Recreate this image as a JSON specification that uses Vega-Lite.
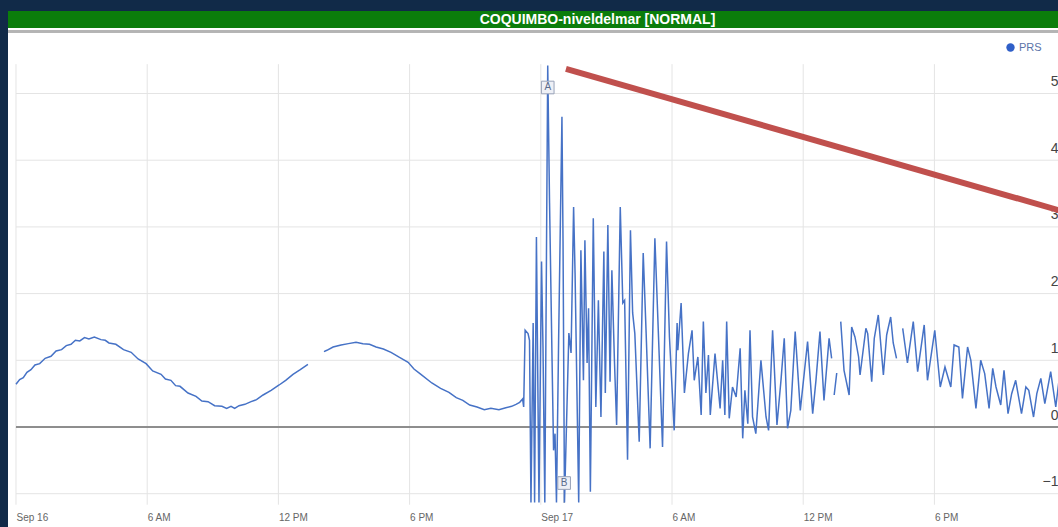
{
  "$schema": "https://vega.github.io/schema/vega-lite/v6.json",
  "background": "#112a48",
  "padding": {"left": 7, "top": 11, "right": 0, "bottom": 0},
  "spacing": 0,
  "config": {"font": "Liberation Sans", "view": {"stroke": null}},
  "datasets": {
    "series": [
      {"t": "2015-09-16T00:00Z", "v": 0.64}, {"t": "2015-09-16T00:10Z", "v": 0.71}, {"t": "2015-09-16T00:20Z", "v": 0.74}, {"t": "2015-09-16T00:30Z", "v": 0.82}, {"t": "2015-09-16T00:41Z", "v": 0.86},
      {"t": "2015-09-16T00:52Z", "v": 0.93}, {"t": "2015-09-16T01:05Z", "v": 0.95}, {"t": "2015-09-16T01:20Z", "v": 1.03}, {"t": "2015-09-16T01:36Z", "v": 1.06}, {"t": "2015-09-16T01:50Z", "v": 1.14}, {"t": "2015-09-16T02:05Z", "v": 1.16},
      {"t": "2015-09-16T02:18Z", "v": 1.22}, {"t": "2015-09-16T02:31Z", "v": 1.24}, {"t": "2015-09-16T02:43Z", "v": 1.3}, {"t": "2015-09-16T02:55Z", "v": 1.29}, {"t": "2015-09-16T03:08Z", "v": 1.34}, {"t": "2015-09-16T03:20Z", "v": 1.32},
      {"t": "2015-09-16T03:35Z", "v": 1.35}, {"t": "2015-09-16T03:53Z", "v": 1.31}, {"t": "2015-09-16T04:05Z", "v": 1.3}, {"t": "2015-09-16T04:15Z", "v": 1.26}, {"t": "2015-09-16T04:34Z", "v": 1.24},
      {"t": "2015-09-16T04:55Z", "v": 1.16}, {"t": "2015-09-16T05:16Z", "v": 1.12}, {"t": "2015-09-16T05:35Z", "v": 1.02}, {"t": "2015-09-16T05:57Z", "v": 0.95}, {"t": "2015-09-16T06:15Z", "v": 0.84}, {"t": "2015-09-16T06:38Z", "v": 0.79},
      {"t": "2015-09-16T06:50Z", "v": 0.72}, {"t": "2015-09-16T07:05Z", "v": 0.7}, {"t": "2015-09-16T07:18Z", "v": 0.62}, {"t": "2015-09-16T07:30Z", "v": 0.61}, {"t": "2015-09-16T07:52Z", "v": 0.51}, {"t": "2015-09-16T08:14Z", "v": 0.46},
      {"t": "2015-09-16T08:30Z", "v": 0.39}, {"t": "2015-09-16T08:47Z", "v": 0.38}, {"t": "2015-09-16T09:05Z", "v": 0.32}, {"t": "2015-09-16T09:25Z", "v": 0.31}, {"t": "2015-09-16T09:38Z", "v": 0.28}, {"t": "2015-09-16T09:50Z", "v": 0.31},
      {"t": "2015-09-16T10:00Z", "v": 0.28}, {"t": "2015-09-16T10:12Z", "v": 0.32}, {"t": "2015-09-16T10:28Z", "v": 0.34}, {"t": "2015-09-16T10:45Z", "v": 0.38}, {"t": "2015-09-16T11:00Z", "v": 0.41}, {"t": "2015-09-16T11:18Z", "v": 0.48},
      {"t": "2015-09-16T11:40Z", "v": 0.55}, {"t": "2015-09-16T12:02Z", "v": 0.63}, {"t": "2015-09-16T12:20Z", "v": 0.7}, {"t": "2015-09-16T12:40Z", "v": 0.79}, {"t": "2015-09-16T13:00Z", "v": 0.86}, {"t": "2015-09-16T13:21Z", "v": 0.94},
      {"t": "2015-09-16T13:40Z", "v": null},
      {"t": "2015-09-16T14:05Z", "v": 1.13}, {"t": "2015-09-16T14:13Z", "v": 1.15}, {"t": "2015-09-16T14:30Z", "v": 1.2}, {"t": "2015-09-16T14:52Z", "v": 1.23}, {"t": "2015-09-16T15:12Z", "v": 1.25},
      {"t": "2015-09-16T15:33Z", "v": 1.27}, {"t": "2015-09-16T15:52Z", "v": 1.25}, {"t": "2015-09-16T16:10Z", "v": 1.24}, {"t": "2015-09-16T16:28Z", "v": 1.2}, {"t": "2015-09-16T16:48Z", "v": 1.17},
      {"t": "2015-09-16T17:09Z", "v": 1.12}, {"t": "2015-09-16T17:30Z", "v": 1.05}, {"t": "2015-09-16T17:56Z", "v": 0.97}, {"t": "2015-09-16T18:12Z", "v": 0.87}, {"t": "2015-09-16T18:31Z", "v": 0.79},
      {"t": "2015-09-16T19:01Z", "v": 0.66}, {"t": "2015-09-16T19:25Z", "v": 0.58}, {"t": "2015-09-16T19:48Z", "v": 0.52}, {"t": "2015-09-16T20:08Z", "v": 0.44}, {"t": "2015-09-16T20:26Z", "v": 0.4},
      {"t": "2015-09-16T20:45Z", "v": 0.33}, {"t": "2015-09-16T21:05Z", "v": 0.3}, {"t": "2015-09-16T21:25Z", "v": 0.26}, {"t": "2015-09-16T21:43Z", "v": 0.28}, {"t": "2015-09-16T22:05Z", "v": 0.26}, {"t": "2015-09-16T22:24Z", "v": 0.29},
      {"t": "2015-09-16T22:40Z", "v": 0.31}, {"t": "2015-09-16T22:52Z", "v": 0.34}, {"t": "2015-09-16T23:02Z", "v": 0.37}, {"t": "2015-09-16T23:10Z", "v": 0.42}, {"t": "2015-09-16T23:13Z", "v": 0.3},
      {"t": "2015-09-16T23:17Z", "v": 1.45}, {"t": "2015-09-16T23:25Z", "v": 1.4}, {"t": "2015-09-16T23:29Z", "v": 1.3},
      {"t": "2015-09-16T23:33Z", "v": -1.13}, {"t": "2015-09-16T23:39Z", "v": 1.56}, {"t": "2015-09-16T23:43Z", "v": -1.13},
      {"t": "2015-09-16T23:48Z", "v": 2.85}, {"t": "2015-09-16T23:55Z", "v": -1.13}, {"t": "2015-09-17T00:02Z", "v": 2.48},
      {"t": "2015-09-17T00:06Z", "v": 1.2}, {"t": "2015-09-17T00:11Z", "v": -1.13}, {"t": "2015-09-17T00:19Z", "v": 5.42},
      {"t": "2015-09-17T00:24Z", "v": 3.36}, {"t": "2015-09-17T00:31Z", "v": 0.96}, {"t": "2015-09-17T00:35Z", "v": -0.35},
      {"t": "2015-09-17T00:39Z", "v": -0.1}, {"t": "2015-09-17T00:43Z", "v": -1.13}, {"t": "2015-09-17T00:49Z", "v": 1.35},
      {"t": "2015-09-17T00:58Z", "v": 4.65}, {"t": "2015-09-17T01:01Z", "v": 2.78}, {"t": "2015-09-17T01:05Z", "v": -1.13},
      {"t": "2015-09-17T01:17Z", "v": 1.41}, {"t": "2015-09-17T01:23Z", "v": 1.11}, {"t": "2015-09-17T01:30Z", "v": 3.3},
      {"t": "2015-09-17T01:34Z", "v": 2.31}, {"t": "2015-09-17T01:44Z", "v": -1.13}, {"t": "2015-09-17T01:50Z", "v": 2.65},
      {"t": "2015-09-17T01:57Z", "v": 0.7}, {"t": "2015-09-17T02:01Z", "v": 2.8}, {"t": "2015-09-17T02:07Z", "v": 0.96},
      {"t": "2015-09-17T02:11Z", "v": 1.78}, {"t": "2015-09-17T02:16Z", "v": -0.97}, {"t": "2015-09-17T02:24Z", "v": 3.13},
      {"t": "2015-09-17T02:31Z", "v": 0.3}, {"t": "2015-09-17T02:38Z", "v": 1.9}, {"t": "2015-09-17T02:45Z", "v": 0.15},
      {"t": "2015-09-17T02:53Z", "v": 2.63}, {"t": "2015-09-17T02:57Z", "v": 0.51}, {"t": "2015-09-17T03:04Z", "v": 3.03},
      {"t": "2015-09-17T03:10Z", "v": 0.68}, {"t": "2015-09-17T03:15Z", "v": 2.35}, {"t": "2015-09-17T03:22Z", "v": 1.0},
      {"t": "2015-09-17T03:28Z", "v": 0.03}, {"t": "2015-09-17T03:38Z", "v": 3.3}, {"t": "2015-09-17T03:45Z", "v": 1.86},
      {"t": "2015-09-17T03:50Z", "v": 1.9}, {"t": "2015-09-17T03:58Z", "v": -0.49}, {"t": "2015-09-17T04:06Z", "v": 2.95},
      {"t": "2015-09-17T04:12Z", "v": 1.71}, {"t": "2015-09-17T04:18Z", "v": 1.4}, {"t": "2015-09-17T04:30Z", "v": -0.22},
      {"t": "2015-09-17T04:41Z", "v": 2.61}, {"t": "2015-09-17T04:49Z", "v": 1.41}, {"t": "2015-09-17T05:00Z", "v": -0.32},
      {"t": "2015-09-17T05:13Z", "v": 2.83}, {"t": "2015-09-17T05:21Z", "v": 1.65}, {"t": "2015-09-17T05:34Z", "v": -0.3},
      {"t": "2015-09-17T05:45Z", "v": 2.78}, {"t": "2015-09-17T05:53Z", "v": 1.35}, {"t": "2015-09-17T06:06Z", "v": -0.05},
      {"t": "2015-09-17T06:14Z", "v": 1.56}, {"t": "2015-09-17T06:16Z", "v": 1.15}, {"t": "2015-09-17T06:25Z", "v": 1.86},
      {"t": "2015-09-17T06:34Z", "v": 0.51}, {"t": "2015-09-17T06:45Z", "v": 1.1}, {"t": "2015-09-17T06:55Z", "v": 1.45},
      {"t": "2015-09-17T07:01Z", "v": 0.7}, {"t": "2015-09-17T07:11Z", "v": 1.05}, {"t": "2015-09-17T07:20Z", "v": 0.18},
      {"t": "2015-09-17T07:26Z", "v": 1.58}, {"t": "2015-09-17T07:33Z", "v": 0.51}, {"t": "2015-09-17T07:40Z", "v": 1.08},
      {"t": "2015-09-17T07:45Z", "v": 0.18}, {"t": "2015-09-17T07:58Z", "v": 1.1}, {"t": "2015-09-17T08:12Z", "v": 0.28},
      {"t": "2015-09-17T08:19Z", "v": 1.0}, {"t": "2015-09-17T08:25Z", "v": 0.18}, {"t": "2015-09-17T08:30Z", "v": 1.58},
      {"t": "2015-09-17T08:37Z", "v": 0.13}, {"t": "2015-09-17T08:46Z", "v": 0.6}, {"t": "2015-09-17T08:56Z", "v": 0.45},
      {"t": "2015-09-17T09:07Z", "v": 1.18}, {"t": "2015-09-17T09:14Z", "v": -0.17}, {"t": "2015-09-17T09:20Z", "v": 0.55},
      {"t": "2015-09-17T09:28Z", "v": 0.05}, {"t": "2015-09-17T09:34Z", "v": 1.45}, {"t": "2015-09-17T09:41Z", "v": 0.15},
      {"t": "2015-09-17T09:50Z", "v": -0.1}, {"t": "2015-09-17T10:04Z", "v": 1.0}, {"t": "2015-09-17T10:18Z", "v": 0.15},
      {"t": "2015-09-17T10:25Z", "v": -0.05}, {"t": "2015-09-17T10:36Z", "v": 1.45}, {"t": "2015-09-17T10:48Z", "v": 0.03},
      {"t": "2015-09-17T10:59Z", "v": 0.7}, {"t": "2015-09-17T11:08Z", "v": 1.33}, {"t": "2015-09-17T11:17Z", "v": -0.02},
      {"t": "2015-09-17T11:26Z", "v": 0.25}, {"t": "2015-09-17T11:38Z", "v": 1.43}, {"t": "2015-09-17T11:52Z", "v": 0.25},
      {"t": "2015-09-17T12:12Z", "v": 1.28}, {"t": "2015-09-17T12:26Z", "v": 0.2}, {"t": "2015-09-17T12:35Z", "v": 0.7},
      {"t": "2015-09-17T12:46Z", "v": 1.43}, {"t": "2015-09-17T12:57Z", "v": 0.4}, {"t": "2015-09-17T13:11Z", "v": 1.33},
      {"t": "2015-09-17T13:18Z", "v": 1.03}, {"t": "2015-09-17T13:22Z", "v": null},
      {"t": "2015-09-17T13:25Z", "v": 0.48}, {"t": "2015-09-17T13:32Z", "v": 0.81}, {"t": "2015-09-17T13:36Z", "v": null},
      {"t": "2015-09-17T13:43Z", "v": 1.58}, {"t": "2015-09-17T13:52Z", "v": 0.85}, {"t": "2015-09-17T14:06Z", "v": 0.48},
      {"t": "2015-09-17T14:13Z", "v": 1.5}, {"t": "2015-09-17T14:22Z", "v": 1.35}, {"t": "2015-09-17T14:32Z", "v": 1.05},
      {"t": "2015-09-17T14:36Z", "v": 0.78}, {"t": "2015-09-17T14:52Z", "v": 1.48}, {"t": "2015-09-17T14:57Z", "v": 1.4},
      {"t": "2015-09-17T15:08Z", "v": 0.68}, {"t": "2015-09-17T15:15Z", "v": 1.33}, {"t": "2015-09-17T15:26Z", "v": 1.68},
      {"t": "2015-09-17T15:40Z", "v": 0.78}, {"t": "2015-09-17T15:49Z", "v": 1.38}, {"t": "2015-09-17T16:00Z", "v": 1.65},
      {"t": "2015-09-17T16:07Z", "v": 1.26}, {"t": "2015-09-17T16:16Z", "v": 1.03}, {"t": "2015-09-17T16:22Z", "v": null},
      {"t": "2015-09-17T16:33Z", "v": 1.48}, {"t": "2015-09-17T16:46Z", "v": 0.96}, {"t": "2015-09-17T17:02Z", "v": 1.58},
      {"t": "2015-09-17T17:14Z", "v": 0.83}, {"t": "2015-09-17T17:32Z", "v": 1.53}, {"t": "2015-09-17T17:41Z", "v": 0.7},
      {"t": "2015-09-17T18:01Z", "v": 1.45}, {"t": "2015-09-17T18:16Z", "v": 0.6}, {"t": "2015-09-17T18:29Z", "v": 0.9},
      {"t": "2015-09-17T18:37Z", "v": 0.75}, {"t": "2015-09-17T18:45Z", "v": 0.6}, {"t": "2015-09-17T18:54Z", "v": 1.23},
      {"t": "2015-09-17T19:07Z", "v": 1.2}, {"t": "2015-09-17T19:17Z", "v": 0.43}, {"t": "2015-09-17T19:31Z", "v": 1.2},
      {"t": "2015-09-17T19:40Z", "v": 1.0}, {"t": "2015-09-17T19:54Z", "v": 0.28}, {"t": "2015-09-17T20:07Z", "v": 1.0},
      {"t": "2015-09-17T20:18Z", "v": 0.8}, {"t": "2015-09-17T20:30Z", "v": 0.28}, {"t": "2015-09-17T20:40Z", "v": 0.88},
      {"t": "2015-09-17T20:49Z", "v": 0.6}, {"t": "2015-09-17T21:02Z", "v": 0.33}, {"t": "2015-09-17T21:11Z", "v": 0.85},
      {"t": "2015-09-17T21:22Z", "v": 0.2}, {"t": "2015-09-17T21:32Z", "v": 0.5}, {"t": "2015-09-17T21:43Z", "v": 0.7},
      {"t": "2015-09-17T21:59Z", "v": 0.2}, {"t": "2015-09-17T22:11Z", "v": 0.6}, {"t": "2015-09-17T22:19Z", "v": 0.55},
      {"t": "2015-09-17T22:32Z", "v": 0.15}, {"t": "2015-09-17T22:41Z", "v": 0.5}, {"t": "2015-09-17T22:52Z", "v": 0.73},
      {"t": "2015-09-17T23:03Z", "v": 0.35}, {"t": "2015-09-17T23:19Z", "v": 0.83}, {"t": "2015-09-17T23:33Z", "v": 0.3},
      {"t": "2015-09-17T23:41Z", "v": 0.66}
    ],
    "vgrid": [
      {"t": "2015-09-16T00:00Z"}, {"t": "2015-09-16T06:00Z"}, {"t": "2015-09-16T12:00Z"}, {"t": "2015-09-16T18:00Z"},
      {"t": "2015-09-17T00:00Z"}, {"t": "2015-09-17T06:00Z"}, {"t": "2015-09-17T12:00Z"}, {"t": "2015-09-17T18:00Z"}
    ],
    "hgrid": [{"v": -1}, {"v": 1}, {"v": 2}, {"v": 3}, {"v": 4}, {"v": 5}],
    "flags": [
      {"t": "2015-09-17T00:19Z", "v": 5.09, "label": "A"},
      {"t": "2015-09-17T01:04Z", "v": -0.84, "label": "B"}
    ],
    "poles": [{"t": "2015-09-17T01:04Z", "v1": -0.93, "v2": -1.14}],
    "arrow": [{"t1": "2015-09-17T01:09Z", "v1": 5.37, "t2": "2015-09-17T23:41Z", "v2": 3.25}],
    "header": [{"title": "COQUIMBO-niveldelmar [NORMAL]"}]
  },
  "vconcat": [
    {
      "width": 1051,
      "height": 17,
      "view": {"fill": "#0b7d0b", "stroke": null},
      "data": {"name": "header"},
      "mark": {"type": "text", "color": "white", "fontWeight": "bold", "fontSize": 14, "font": "Liberation Sans", "dx": 64, "baseline": "middle", "align": "center"},
      "encoding": {"text": {"field": "title"}}
    },
    {
      "width": 1051,
      "height": 499,
      "view": {"fill": "white", "stroke": null},
      "layer": [
        {
          "data": {"name": "hgrid"},
          "mark": {"type": "rule", "color": "#e4e4e4", "strokeWidth": 1},
          "encoding": {
            "x": {
              "datum": {"year": 2015, "month": 9, "date": 16, "utc": true},
              "type": "temporal",
              "scale": {
                "type": "utc",
                "domain": [
                  {"year": 2015, "month": 9, "date": 15, "hours": 23, "minutes": 38, "seconds": 3, "utc": true},
                  {"year": 2015, "month": 9, "date": 17, "hours": 23, "minutes": 41, "seconds": 52, "utc": true}
                ]
              },
              "axis": {
                "title": null,
                "orient": "bottom",
                "grid": false,
                "ticks": false,
                "domain": false,
                "values": [
                  {"year": 2015, "month": 9, "date": 16, "hours": 0, "utc": true},
                  {"year": 2015, "month": 9, "date": 16, "hours": 6, "utc": true},
                  {"year": 2015, "month": 9, "date": 16, "hours": 12, "utc": true},
                  {"year": 2015, "month": 9, "date": 16, "hours": 18, "utc": true},
                  {"year": 2015, "month": 9, "date": 17, "hours": 0, "utc": true},
                  {"year": 2015, "month": 9, "date": 17, "hours": 6, "utc": true},
                  {"year": 2015, "month": 9, "date": 17, "hours": 12, "utc": true},
                  {"year": 2015, "month": 9, "date": 17, "hours": 18, "utc": true}
                ],
                "labelExpr": "utchours(datum.value) == 0 ? utcFormat(datum.value, '%b %d') : utcFormat(datum.value, '%-I %p')",
                "labelAlign": "left",
                "labelBaseline": "top",
                "labelPadding": -15,
                "labelFlush": false,
                "labelOverlap": false,
                "labelFontSize": 10,
                "labelColor": "#666666",
                "labelFont": "Liberation Sans"
              }
            },
            "x2": {"datum": {"year": 2015, "month": 9, "date": 17, "hours": 23, "minutes": 41, "seconds": 52, "utc": true}},
            "y": {
              "field": "v",
              "type": "quantitative",
              "scale": {"domain": [-1.499, 5.982], "nice": false, "zero": false},
              "axis": {
                "title": null,
                "orient": "right",
                "values": [-1, 0, 1, 2, 3, 4, 5],
                "format": "d",
                "grid": false,
                "ticks": false,
                "domain": false,
                "labelAlign": "right",
                "labelPadding": -1,
                "labelBaseline": "alphabetic",
                "labelOffset": -8,
                "labelFontSize": 14,
                "labelColor": "#444444",
                "labelFont": "Liberation Sans"
              }
            }
          }
        },
        {
          "data": {"name": "vgrid"},
          "mark": {"type": "rule", "color": "#e4e4e4", "strokeWidth": 1},
          "encoding": {
            "x": {"field": "t", "type": "temporal"},
            "y": {"datum": -1.165, "type": "quantitative"},
            "y2": {"datum": 5.44}
          }
        },
        {
          "data": {"name": "hgrid"},
          "mark": {"type": "rule", "color": "#b4b4b4", "strokeWidth": 2},
          "encoding": {"y": {"datum": 5.93, "type": "quantitative"}}
        },
        {
          "data": {"name": "hgrid"},
          "mark": {"type": "rule", "color": "#8c8c8c", "strokeWidth": 1},
          "encoding": {
            "y": {"datum": 0, "type": "quantitative"},
            "x": {"datum": {"year": 2015, "month": 9, "date": 16, "utc": true}, "type": "temporal"},
            "x2": {"datum": {"year": 2015, "month": 9, "date": 17, "hours": 23, "minutes": 41, "seconds": 52, "utc": true}}
          }
        },
        {
          "data": {"name": "poles"},
          "mark": {"type": "rule", "color": "#a9b0c0", "strokeWidth": 1.5},
          "encoding": {
            "x": {"field": "t", "type": "temporal"},
            "y": {"field": "v1", "type": "quantitative"},
            "y2": {"field": "v2"}
          }
        },
        {
          "data": {"name": "series"},
          "mark": {"type": "line", "strokeWidth": 1.5, "invalid": "break-paths-show-domains", "interpolate": "linear"},
          "encoding": {
            "x": {"field": "t", "type": "temporal"},
            "y": {"field": "v", "type": "quantitative"},
            "color": {
              "datum": "PRS",
              "scale": {"range": ["#4672c6"]},
              "legend": {
                "orient": "none",
                "legendX": 997,
                "legendY": 31,
                "title": null,
                "symbolType": "circle",
                "symbolSize": 70,
                "symbolFillColor": "#2f5fc8",
                "symbolStrokeColor": "#2f5fc8",
                "symbolStrokeWidth": 0,
                "labelFontSize": 11,
                "labelColor": "#5b73a8",
                "labelFont": "Liberation Sans",
                "labelOffset": 3
              }
            }
          }
        },
        {
          "data": {"name": "flags"},
          "mark": {"type": "point", "shape": "square", "size": 160, "filled": true, "fill": "#eef0f6", "stroke": "#98a2b8", "strokeWidth": 1, "opacity": 1},
          "encoding": {
            "x": {"field": "t", "type": "temporal"},
            "y": {"field": "v", "type": "quantitative"}
          }
        },
        {
          "data": {"name": "flags"},
          "mark": {"type": "text", "fontSize": 10, "color": "#5a6b8c", "baseline": "middle", "align": "center", "font": "Liberation Sans"},
          "encoding": {
            "x": {"field": "t", "type": "temporal"},
            "y": {"field": "v", "type": "quantitative"},
            "text": {"field": "label"}
          }
        },
        {
          "data": {"name": "arrow"},
          "mark": {"type": "rule", "color": "#c0504d", "strokeWidth": 6, "strokeCap": "butt"},
          "encoding": {
            "x": {"field": "t1", "type": "temporal"},
            "x2": {"field": "t2"},
            "y": {"field": "v1", "type": "quantitative"},
            "y2": {"field": "v2"}
          }
        }
      ]
    }
  ]
}
